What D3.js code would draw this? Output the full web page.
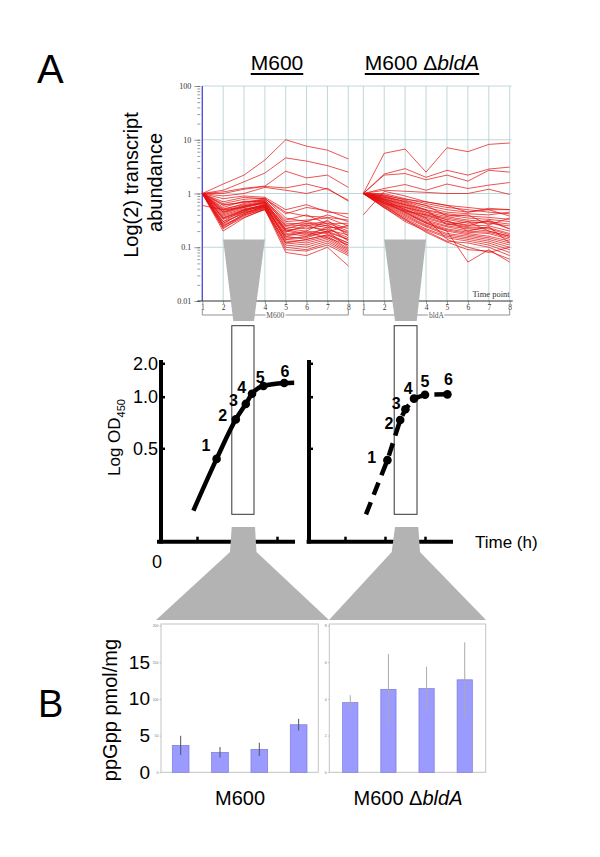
<!DOCTYPE html>
<html>
<head>
<meta charset="utf-8">
<script src="https://cdnjs.cloudflare.com/ajax/libs/d3/7.8.5/d3.min.js"></script>
<style>
body{margin:0;background:#fff;}
svg{display:block;font-family:"Liberation Sans",Arial,sans-serif;}
</style>
</head>
<body>
<div id="chart"></div>
<script>
// ---- A (top): transcript profiles, 8 time points, relative abundance
var timePoints = [1,2,3,4,5,6,7,8];
var logTicks = [0.01,0.1,1,10,100];

var m600Profiles = [
  [1, 1.5, 2.2, 4.2, 10, 7.6, 6.4, 4.4],
  [1, 1.15, 1.65, 2.4, 4.6, 4.0, 3.3, 2.5],
  [1, 1.07, 1.25, 1.37, 2.6, 1.95, 2.2, 1.3],
  [1, 1.0, 1.2, 1.35, 1.27, 1.5, 1.2, 0.75],
  [1, 0.9, 1.0, 1.3, 1.15, 1.0, 1.25, 0.72],
  [1, 0.8, 0.9, 0.85, 0.5, 0.62, 0.45, 0.42],
  [1, 0.7, 0.85, 0.8, 0.42, 0.55, 0.48, 0.35],
  [1, 0.65, 0.78, 0.82, 0.35, 0.3, 0.4, 0.3],
  [1, 0.6, 0.7, 0.75, 0.3, 0.32, 0.35, 0.25],
  [1, 0.55, 0.72, 0.7, 0.28, 0.27, 0.3, 0.22],
  [1, 0.5, 0.65, 0.78, 0.26, 0.25, 0.28, 0.2],
  [1, 0.48, 0.6, 0.68, 0.24, 0.22, 0.26, 0.18],
  [1, 0.45, 0.58, 0.72, 0.22, 0.2, 0.32, 0.16],
  [1, 0.42, 0.55, 0.65, 0.21, 0.18, 0.22, 0.15],
  [1, 0.4, 0.52, 0.6, 0.2, 0.17, 0.2, 0.14],
  [1, 0.38, 0.5, 0.62, 0.18, 0.16, 0.24, 0.13],
  [1, 0.36, 0.48, 0.58, 0.17, 0.2, 0.18, 0.12],
  [1, 0.34, 0.5, 0.56, 0.16, 0.14, 0.17, 0.11],
  [1, 0.33, 0.45, 0.55, 0.15, 0.15, 0.2, 0.1],
  [1, 0.3, 0.42, 0.6, 0.14, 0.13, 0.16, 0.095],
  [1, 0.28, 0.44, 0.52, 0.13, 0.12, 0.15, 0.09],
  [1, 0.26, 0.4, 0.5, 0.12, 0.11, 0.14, 0.085],
  [1, 0.25, 0.38, 0.54, 0.11, 0.1, 0.13, 0.08],
  [1, 0.23, 0.36, 0.5, 0.1, 0.09, 0.12, 0.075],
  [1, 0.22, 0.4, 0.56, 0.09, 0.085, 0.11, 0.07],
  [1, 0.2, 0.35, 0.52, 0.08, 0.07, 0.1, 0.045],
  [0.6, 0.5, 0.55, 0.68, 0.19, 0.26, 0.19, 0.26],
  [1, 0.62, 0.68, 0.8, 0.45, 0.38, 0.36, 0.32],
  [1, 0.52, 0.62, 0.74, 0.32, 0.4, 0.27, 0.28],
  [1, 0.46, 0.58, 0.66, 0.25, 0.3, 0.25, 0.19],
  [1, 0.44, 0.56, 0.7, 0.2, 0.24, 0.21, 0.17],
  [1, 0.3, 0.5, 0.6, 0.16, 0.19, 0.15, 0.11],
  [1, 0.27, 0.47, 0.64, 0.14, 0.16, 0.19, 0.14],
  [1, 0.24, 0.42, 0.58, 0.12, 0.14, 0.17, 0.12],
  [1, 0.35, 0.46, 0.62, 0.22, 0.28, 0.23, 0.24]
];

var bldAProfiles = [
  [1, 5.6, 6.7, 2.5, 7.1, 6.0, 8.2, 8.7],
  [1, 2.3, 2.9, 2.0, 2.7, 2.2, 2.85, 3.1],
  [1, 2.2, 2.35, 1.8, 2.2, 1.7, 2.7, 2.5],
  [1, 1.24, 1.47, 1.15, 1.5, 1.24, 1.43, 1.6],
  [1, 1.15, 1.1, 1.05, 1.0, 1.0, 1.2, 0.96],
  [0.4, 1.1, 0.9, 0.7, 0.6, 0.55, 0.5, 0.5],
  [1, 1.0, 0.8, 0.65, 0.55, 0.5, 0.45, 0.42],
  [1, 0.95, 0.75, 0.6, 0.5, 0.45, 0.5, 0.38],
  [1, 0.9, 0.7, 0.55, 0.45, 0.42, 0.4, 0.45],
  [1, 0.88, 0.68, 0.5, 0.42, 0.38, 0.36, 0.33],
  [1, 0.85, 0.65, 0.48, 0.4, 0.35, 0.33, 0.3],
  [1, 0.82, 0.62, 0.45, 0.37, 0.32, 0.3, 0.27],
  [1, 0.8, 0.6, 0.42, 0.35, 0.3, 0.28, 0.25],
  [1, 0.78, 0.57, 0.4, 0.33, 0.28, 0.3, 0.22],
  [1, 0.76, 0.55, 0.38, 0.3, 0.26, 0.25, 0.2],
  [1, 0.74, 0.52, 0.36, 0.28, 0.24, 0.23, 0.18],
  [1, 0.72, 0.5, 0.34, 0.27, 0.23, 0.22, 0.17],
  [1, 0.7, 0.48, 0.32, 0.25, 0.22, 0.2, 0.16],
  [1, 0.68, 0.46, 0.3, 0.24, 0.2, 0.19, 0.15],
  [1, 0.66, 0.44, 0.29, 0.22, 0.19, 0.18, 0.14],
  [1, 0.64, 0.42, 0.28, 0.21, 0.18, 0.16, 0.13],
  [1, 0.62, 0.4, 0.26, 0.2, 0.17, 0.15, 0.12],
  [1, 0.6, 0.38, 0.25, 0.18, 0.16, 0.14, 0.11],
  [1, 0.58, 0.36, 0.24, 0.17, 0.15, 0.13, 0.1],
  [1, 0.56, 0.34, 0.22, 0.16, 0.14, 0.12, 0.09],
  [1, 0.54, 0.32, 0.21, 0.15, 0.13, 0.11, 0.08],
  [1, 0.55, 0.3, 0.2, 0.13, 0.12, 0.1, 0.07],
  [1, 0.6, 0.33, 0.19, 0.125, 0.09, 0.085, 0.06],
  [1, 0.7, 0.45, 0.28, 0.2, 0.053, 0.09, 0.053],
  [1, 0.75, 0.5, 0.35, 0.14, 0.1, 0.08, 0.1],
  [1, 0.65, 0.47, 0.4, 0.3, 0.25, 0.32, 0.22],
  [1, 0.85, 0.72, 0.6, 0.38, 0.4, 0.26, 0.35],
  [1, 0.92, 0.78, 0.7, 0.6, 0.45, 0.53, 0.5],
  [1, 0.78, 0.62, 0.5, 0.26, 0.3, 0.2, 0.16],
  [1, 0.66, 0.55, 0.45, 0.32, 0.2, 0.24, 0.12]
];

// ---- A (middle): growth curves, hours vs OD450
var m600Hours = [8.1, 13.9, 18.7, 21.2, 22.75, 25.6, 30.8, 33.3];
var m600OD = [0.30, 0.466, 0.78, 0.93, 1.09, 1.32, 1.41, 1.42];
var m600Samples = ["", "1", "2", "3", "4", "5", "6", ""];
var bldAHours = [14.25, 19.6, 22.8, 24.1, 26.25, 29, 34.6];
var bldAOD = [0.288, 0.462, 0.774, 0.878, 0.981, 1.06, 1.07];
var bldASamples = ["", "1", "2", "3", "4", "5", "6"];
var odTicks = [0.5, 1.0, 2.0];
var hourTicks = [9, 19, 29];

// ---- B: ppGpp, four samples per strain
var ppgppSamples = [1, 2, 3, 4];
var m600Ppgpp = [3.67, 2.72, 3.13, 6.48];
var m600PpgppErr = [1.3, 0.72, 0.9, 0.8];
var bldAPpgpp = [9.5, 11.3, 11.4, 12.6];
var bldAPpgppErr = [1.0, 4.8, 3.0, 5.1];
var ppgppTicks = [0, 5, 10, 15];
var tinyTicks = [0, 5, 10, 15, 20];
var m600TinyLabels = ["0", "50", "100", "150", "200"];
var bldATinyLabels = ["0", "2", "4", "6", "8"];

var svg = d3.select("#chart").append("svg")
  .attr("width", 600).attr("height", 857);
svg.append("rect").attr("width", 600).attr("height", 857).attr("fill", "#fff");

var serif = "'Liberation Serif','DejaVu Serif',serif";
var gridColor = "#b9d3d6";
var funnelColor = "#b3b3b3";

// ================= transcript panels =================
var yT = d3.scaleLog().domain([0.01, 100]).range([301, 86]);
var xL = d3.scaleLinear().domain([1, 8]).range([202.3, 348.3]);
var xR = d3.scaleLinear().domain([1, 8]).range([363.3, 509.7]);

// horizontal grid
svg.append("g").selectAll("line").data([0.1, 1, 10, 100]).enter().append("line")
  .attr("x1", xL(1)).attr("x2", xR(8) + 2)
  .attr("y1", function(d){ return yT(d); }).attr("y2", function(d){ return yT(d); })
  .attr("stroke", gridColor).attr("stroke-width", 0.9);

[xL, xR].forEach(function(x){
  svg.append("g").selectAll("line").data(timePoints).enter().append("line")
    .attr("x1", function(d){ return x(d); }).attr("x2", function(d){ return x(d); })
    .attr("y1", yT(100)).attr("y2", yT(0.01))
    .attr("stroke", gridColor).attr("stroke-width", 0.9);
});

svg.append("line").attr("x1", xL(1)).attr("x2", xL(1))
  .attr("y1", yT(100)).attr("y2", yT(0.01))
  .attr("stroke", "#4a4ad8").attr("stroke-width", 1.3);

function drawProfiles(data, x){
  var line = d3.line()
    .x(function(d, i){ return x(timePoints[i]); })
    .y(function(d){ return yT(d); });
  svg.append("g").selectAll("path").data(data).enter().append("path")
    .attr("d", line)
    .attr("fill", "none")
    .attr("stroke", "#e41010")
    .attr("stroke-width", 0.8)
    .attr("stroke-opacity", 0.9);
}
drawProfiles(m600Profiles, xL);
drawProfiles(bldAProfiles, xR);

// y axis (log, minor + major ticks)
var minorAxis = d3.axisLeft(yT).tickValues(yT.ticks()).tickSize(3).tickFormat("");
svg.append("g").attr("transform", "translate(" + (xL(1) - 2) + ",0)")
  .call(minorAxis)
  .call(function(g){ g.select(".domain").remove(); g.selectAll("line").attr("stroke", "#555").attr("stroke-width", 0.6); });
var majorAxis = d3.axisLeft(yT).tickValues(logTicks).tickSize(6).tickPadding(3)
  .tickFormat(function(d){ return String(d); });
svg.append("g").attr("transform", "translate(" + (xL(1) - 2) + ",0)")
  .call(majorAxis)
  .call(function(g){
    g.select(".domain").remove();
    g.selectAll("line").attr("stroke", "#555").attr("stroke-width", 0.6);
    g.selectAll("text").attr("font-family", serif).attr("font-size", 8).attr("fill", "#333");
  });

// x axes
svg.append("line").attr("x1", xL(1) - 5).attr("x2", xR(8) + 3)
  .attr("y1", yT(0.01)).attr("y2", yT(0.01))
  .attr("stroke", "#333").attr("stroke-width", 1);

[[xL, "M600"], [xR, "bldA"]].forEach(function(p){
  var x = p[0];
  svg.append("g").attr("transform", "translate(0," + yT(0.01) + ")")
    .call(d3.axisBottom(x).tickValues(timePoints).tickSize(3).tickPadding(1)
      .tickFormat(d3.format("d")))
    .call(function(g){
      g.select(".domain").remove();
      g.selectAll("line").attr("stroke", "#555").attr("stroke-width", 0.6);
      g.selectAll("text").attr("font-family", serif).attr("font-size", 7.5).attr("fill", "#333");
    });
  svg.append("path")
    .attr("d", "M" + x(1) + ",309V315H" + x(8) + "V309")
    .attr("fill", "none").attr("stroke", "#777").attr("stroke-width", 0.8);
  svg.append("text").attr("x", (x(1) + x(8)) / 2).attr("y", 318)
    .attr("text-anchor", "middle").attr("font-family", serif).attr("font-size", 7.5)
    .attr("fill", "#555").attr("stroke", "#fff").attr("stroke-width", 3)
    .attr("paint-order", "stroke").text(p[1]);
});

svg.append("text").attr("x", xR(8)).attr("y", yT(0.01) - 4)
  .attr("text-anchor", "end").attr("font-family", serif).attr("font-size", 8.5)
  .attr("fill", "#333").text("Time point");

// y label
svg.append("text").attr("transform", "translate(137.5,185) rotate(-90)")
  .attr("text-anchor", "middle").attr("font-size", 20).text("Log(2) transcript");
svg.append("text").attr("transform", "translate(161.5,182.5) rotate(-90)")
  .attr("text-anchor", "middle").attr("font-size", 20).text("abundance");

// headings
function heading(cx, parts){
  var t = svg.append("text").attr("x", cx).attr("y", 70)
    .attr("text-anchor", "middle").attr("font-size", 21);
  parts.forEach(function(p){
    t.append("tspan").attr("font-style", p[1] ? "italic" : "normal").text(p[0]);
  });
  var w = t.node().getComputedTextLength();
  svg.append("line").attr("x1", cx - w / 2).attr("x2", cx + w / 2)
    .attr("y1", 74).attr("y2", 74).attr("stroke", "#000").attr("stroke-width", 2);
}
heading(277, [["M600", false]]);
heading(422, [["M600 \u0394", false], ["bldA", true]]);

svg.append("text").attr("x", 37).attr("y", 83).attr("font-size", 40).text("A");
svg.append("text").attr("x", 38).attr("y", 717).attr("font-size", 38).text("B");

// ================= growth curves =================
var yG = d3.scaleLinear().domain([0.2, 0.5, 1, 2]).range([541.7, 448.3, 396.7, 363.3]);
var xGL = d3.scaleLinear().domain([0, 35]).range([161, 301]);
var xGR = d3.scaleLinear().domain([0, 35]).range([309, 449]);

// sample windows
var windowColor = "#333";
svg.append("rect").attr("x", xGL(17.7)).attr("y", 325.7)
  .attr("width", xGL(23.25) - xGL(17.7)).attr("height", 188.6)
  .attr("fill", "none").attr("stroke", windowColor).attr("stroke-width", 1);
svg.append("rect").attr("x", xGR(21.3)).attr("y", 325.7)
  .attr("width", xGR(27) - xGR(21.3)).attr("height", 188.6)
  .attr("fill", "none").attr("stroke", windowColor).attr("stroke-width", 1);

// axes
svg.append("g").attr("transform", "translate(" + xGL(0) + ",0)")
  .call(d3.axisLeft(yG).tickValues(odTicks).tickSize(-4).tickSizeOuter(0).tickPadding(3)
    .tickFormat(d3.format(".1f")))
  .call(function(g){
    g.select(".domain").attr("stroke-width", 4).attr("d", "M0,360V543.5");
    g.selectAll("line").attr("stroke-width", 2.5);
    g.selectAll("text").attr("font-size", 18).attr("fill", "#000");
  });
svg.append("g").attr("transform", "translate(" + xGR(0) + ",0)")
  .call(d3.axisLeft(yG).tickValues(odTicks).tickSize(-4).tickSizeOuter(0).tickFormat(""))
  .call(function(g){
    g.select(".domain").attr("stroke-width", 4).attr("d", "M0,360V543.5");
    g.selectAll("line").attr("stroke-width", 2.5);
  });

[[xGL, -1, 33.5], [xGR, -0.6, 36]].forEach(function(p){
  var x = p[0];
  svg.append("g").attr("transform", "translate(0,541.7)")
    .call(d3.axisBottom(x).tickValues(hourTicks).tickSize(-5).tickSizeOuter(0).tickFormat(""))
    .call(function(g){
      g.select(".domain").attr("stroke-width", 4).attr("d", "M" + x(p[1]) + ",0H" + x(p[2]));
      g.selectAll("line").attr("stroke-width", 2.5);
    });
});

svg.append("text").attr("x", 157).attr("y", 568).attr("text-anchor", "middle")
  .attr("font-size", 18).text("0");
svg.append("text").attr("x", 475).attr("y", 547.5).attr("font-size", 17).text("Time (h)");

var odLabel = svg.append("text").attr("transform", "translate(120,437.5) rotate(-90)")
  .attr("text-anchor", "middle").attr("font-size", 17);
odLabel.append("tspan").text("Log OD");
odLabel.append("tspan").attr("font-size", 11).attr("dy", 5).text("450");

var m600LabelOffsets = [[0,0], [-10.7,-13.3], [-13,-4], [-12.4,-4], [-10.3,-6.4], [-3.3,-8.7], [0.7,-11.3], [0,0]];
var bldALabelOffsets = [[0,0], [-15.6,-3.3], [-11.3,3.3], [-9.3,-6], [-5.7,-10.4], [0,-13.7], [1,-15.3]];

function drawGrowth(hours, od, samples, offsets, x, dashed){
  var pts = hours.map(function(h, i){ return [x(h), yG(od[i])]; });
  svg.append("path")
    .attr("d", d3.line().curve(dashed ? d3.curveLinear : d3.curveMonotoneX)(pts))
    .attr("fill", "none").attr("stroke", "#000").attr("stroke-width", 4.5)
    .attr("stroke-dasharray", dashed ? "13,8" : null);
  var idx = d3.range(pts.length).filter(function(i){ return samples[i] !== ""; });
  svg.append("g").selectAll("circle").data(idx).enter().append("circle")
    .attr("cx", function(i){ return pts[i][0]; })
    .attr("cy", function(i){ return pts[i][1]; })
    .attr("r", 4.3).attr("fill", "#000");
  svg.append("g").selectAll("text").data(idx).enter().append("text")
    .attr("x", function(i){ return pts[i][0] + offsets[i][0]; })
    .attr("y", function(i){ return pts[i][1] + offsets[i][1]; })
    .attr("dy", "0.36em").attr("text-anchor", "middle")
    .attr("font-size", 16).attr("font-weight", "bold")
    .text(function(i){ return samples[i]; });
}
drawGrowth(m600Hours, m600OD, m600Samples, m600LabelOffsets, xGL, false);
drawGrowth(bldAHours, bldAOD, bldASamples, bldALabelOffsets, xGR, true);

// ================= funnels =================
function funnel(pts){
  svg.append("path").attr("d", "M" + pts.map(function(p){ return p.join(","); }).join("L") + "Z")
    .attr("fill", funnelColor);
}
var fy = yT(0.139);
funnel([[xL(2), fy], [xL(4), fy], [254, 321], [233.3, 321]]);
funnel([[xR(2), fy], [xR(4), fy], [416.7, 321], [395, 321]]);
funnel([[231.7, 527], [255, 527], [256.5, 552], [329, 620], [156, 620], [230, 552]]);
funnel([[395, 527], [418.3, 527], [420, 552], [486, 620], [329, 620], [391.7, 552]]);

// ================= ppGpp bars =================
var yB = d3.scaleLinear().domain([0, 20.2]).range([772.3, 624]);
var xBL = d3.scaleBand().domain(ppgppSamples).range([161, 318.3]).paddingInner(0.575).paddingOuter(0.2875);
var xBR = d3.scaleBand().domain(ppgppSamples).range([329.3, 485.7]).paddingInner(0.6).paddingOuter(0.35);

function drawBars(x, vals, errs, errColor, tinyLabels){
  svg.append("rect").attr("x", x.range()[0]).attr("y", yB(20.2))
    .attr("width", x.range()[1] - x.range()[0]).attr("height", yB(0) - yB(20.2))
    .attr("fill", "none").attr("stroke", "#c4c4c4").attr("stroke-width", 1);
  svg.append("g").selectAll("rect").data(ppgppSamples).enter().append("rect")
    .attr("x", function(d){ return x(d); })
    .attr("y", function(d, i){ return yB(vals[i]); })
    .attr("width", x.bandwidth())
    .attr("height", function(d, i){ return yB(0) - yB(vals[i]); })
    .attr("fill", "#9a9aff").attr("stroke", "#7c7cd6").attr("stroke-width", 0.7);
  svg.append("g").selectAll("line").data(ppgppSamples).enter().append("line")
    .attr("x1", function(d){ return x(d) + x.bandwidth() / 2; })
    .attr("x2", function(d){ return x(d) + x.bandwidth() / 2; })
    .attr("y1", function(d, i){ return yB(vals[i] - errs[i]); })
    .attr("y2", function(d, i){ return yB(vals[i] + errs[i]); })
    .attr("stroke", errColor).attr("stroke-width", 1);
  svg.append("g").attr("transform", "translate(" + x.range()[0] + ",0)")
    .call(d3.axisLeft(yB).tickValues(tinyTicks).tickSize(1.5).tickPadding(1)
      .tickFormat(function(d, i){ return tinyLabels[i]; }))
    .call(function(g){
      g.select(".domain").remove();
      g.selectAll("line").attr("stroke", "#999").attr("stroke-width", 0.5);
      g.selectAll("text").attr("font-size", 3.5).attr("fill", "#777");
    });
}
drawBars(xBL, m600Ppgpp, m600PpgppErr, "#555", m600TinyLabels);
drawBars(xBR, bldAPpgpp, bldAPpgppErr, "#aaa", bldATinyLabels);

svg.append("g").attr("transform", "translate(161,0)")
  .call(d3.axisLeft(yB).tickValues(ppgppTicks).tickSize(0).tickPadding(11))
  .call(function(g){
    g.select(".domain").remove();
    g.selectAll("text").attr("font-size", 19).attr("fill", "#000");
  });

svg.append("text").attr("transform", "translate(117,710) rotate(-90)")
  .attr("text-anchor", "middle").attr("font-size", 20).text("ppGpp pmol/mg");

svg.append("text").attr("x", 240).attr("y", 804.5).attr("text-anchor", "middle")
  .attr("font-size", 20).text("M600");
var bl = svg.append("text").attr("x", 408).attr("y", 804.5).attr("text-anchor", "middle")
  .attr("font-size", 20);
bl.append("tspan").text("M600 \u0394");
bl.append("tspan").attr("font-style", "italic").text("bldA");
</script>
</body>
</html>
